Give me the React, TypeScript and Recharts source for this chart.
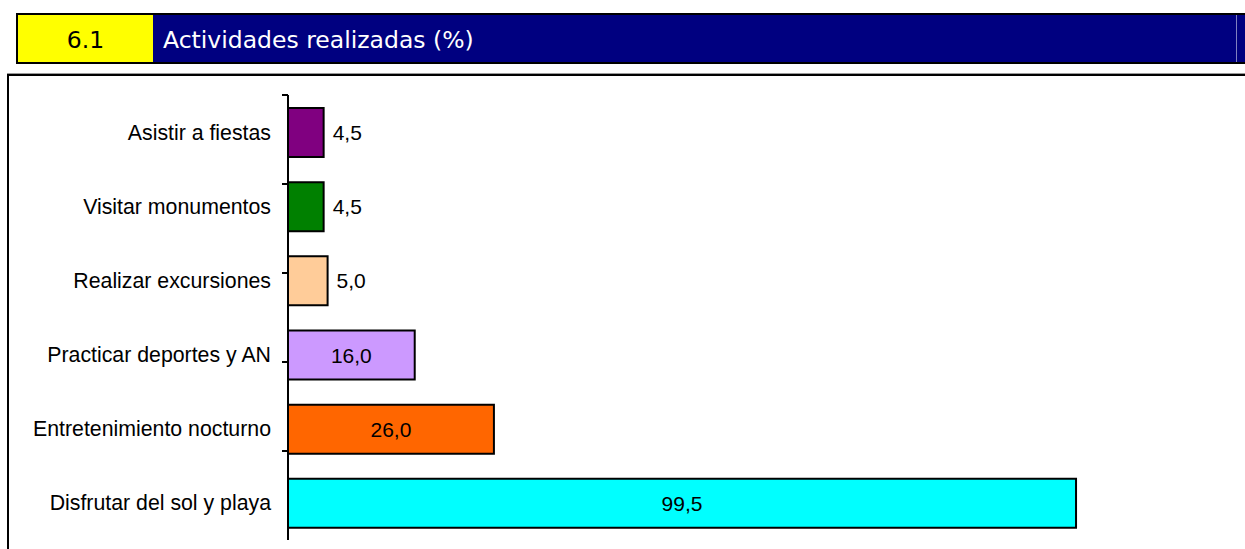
import { BarChart, Bar, XAxis, YAxis, Cell, LabelList } from 'recharts';

// Datos del gráfico 6.1
const categorias = [
  'Asistir a fiestas',
  'Visitar monumentos',
  'Realizar excursiones',
  'Practicar deportes y AN',
  'Entretenimiento nocturno',
  'Disfrutar del sol y playa',
];
const porcentajes = [4.5, 4.5, 5.0, 16.0, 26.0, 99.5];
const colores = ['#800080', '#008000', '#FFCC99', '#CC99FF', '#FF6600', '#00FFFF'];
const limites = [0, 1, 2, 3, 4, 5, 6];

const data = categorias.map((name, i) => ({ name, value: porcentajes[i] }));

const fuente = 'Arial, "Liberation Sans", sans-serif';

const renderLabel = (props: any) => {
  const { x, y, width, height, value } = props;
  const texto = Number(value).toFixed(1).replace('.', ',');
  const dentro = value >= 10;
  return (
    <text
      x={dentro ? x + width / 2 : x + width + 9}
      y={y + height / 2}
      textAnchor={dentro ? 'middle' : 'start'}
      dominantBaseline="central"
      fontFamily={fuente}
      fontSize={21}
      fill="#000"
    >
      {texto}
    </text>
  );
};

export default function App() {
  return (
    <div style={{ position: 'absolute', left: 0, top: 0, width: 1245, height: 549, background: '#fff', overflow: 'hidden' }}>
      {/* cabecera */}
      <div style={{ position: 'absolute', left: 16, top: 13, width: 1229, height: 51, background: '#000' }} />
      <div style={{ position: 'absolute', left: 18, top: 15, width: 135, height: 47, background: '#ffff00', color: '#000', fontFamily: 'Tahoma, "DejaVu Sans", sans-serif', fontSize: 23.5, lineHeight: '51px', textAlign: 'center' }}>
        6.1
      </div>
      <div style={{ position: 'absolute', left: 153, top: 15, width: 1092, height: 47, background: '#000080', color: '#fff', fontFamily: 'Tahoma, "DejaVu Sans", sans-serif', fontSize: 23.5, lineHeight: '51px', whiteSpace: 'nowrap', textIndent: 10 }}>
        Actividades realizadas (%)
      </div>
      <div style={{ position: 'absolute', left: 1236, top: 15, width: 1, height: 47, background: '#8080c0' }} />
      {/* marco */}
      <div style={{ position: 'absolute', left: 7, top: 73, width: 1238, height: 1, background: '#999' }} />
      <div style={{ position: 'absolute', left: 7, top: 74, width: 1238, height: 2, background: '#000' }} />
      <div style={{ position: 'absolute', left: 7, top: 74, width: 2, height: 475, background: '#000' }} />

      <div style={{ position: 'absolute', left: 0, top: 0 }}>
        <BarChart
          layout="vertical"
          width={1245}
          height={549}
          data={data}
          margin={{ top: 95, right: 165, bottom: 9, left: 8 }}
        >
          <XAxis type="number" domain={[0, 100]} hide />
          <YAxis
            yAxisId="a_lim"
            type="number"
            domain={[0, 6]}
            ticks={limites}
            width={1}
            tick={() => <g />}
            tickSize={6}
            axisLine={{ stroke: '#000', strokeWidth: 2 }}
            tickLine={{ stroke: '#000', strokeWidth: 2 }}
          />
          <YAxis
            yAxisId="b_cat"
            type="category"
            dataKey="name"
            width={279}
            axisLine={false}
            tickLine={false}
            tickSize={6}
            tickMargin={10}
            tick={{ fill: '#000', fontFamily: fuente, fontSize: 21.3 }}
          />
          <Bar dataKey="value" yAxisId="b_cat" barSize={49} stroke="#000" strokeWidth={2} isAnimationActive={false}>
            {data.map((d, i) => (
              <Cell key={d.name} fill={colores[i]} />
            ))}
            <LabelList dataKey="value" content={renderLabel} />
          </Bar>
        </BarChart>
      </div>
    </div>
  );
}
